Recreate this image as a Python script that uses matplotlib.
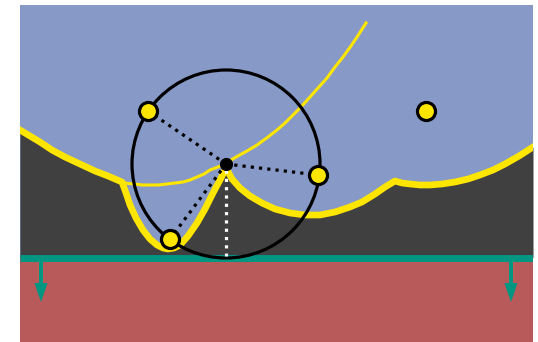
import matplotlib
matplotlib.use("Agg")
import matplotlib.pyplot as plt
import numpy as np
from matplotlib.patches import Circle

# colours
sky = "#8799c6"
rock = "#404040"
base = "#b85a5a"
teal = "#009682"
yellow = "#ffe600"

# all coordinates are in picture units (x to the right, y downwards)
# boundary of the dark region
bound_x = [20, 30, 40, 52, 65, 80, 95, 108, 122,
           126, 130, 136, 143, 150, 157, 163, 168, 174, 180, 188, 197, 205, 213, 220, 226,
           232, 240, 250, 262, 275, 290, 305, 320, 335, 350, 362, 375, 385, 395,
           402, 410, 420, 430, 442, 455, 468, 480, 493, 505, 519, 533]
bound_y = [130, 136, 142, 150, 157, 164, 171, 176, 182,
           193, 205, 218, 230, 239, 245, 248, 249, 248, 245, 236, 223, 209, 193, 180, 168,
           179, 188, 196, 203, 209, 213, 215, 215, 212, 207, 202, 194, 187, 181,
           183, 184, 185, 185, 184, 182, 179, 175, 170, 164, 156, 147]

# thin yellow curve
thin_x = [120, 128, 135, 142, 150, 158, 167, 175, 183, 190, 197, 204, 210, 218, 226,
          236, 247, 257, 268, 277, 285, 293, 301, 310, 318, 327, 335, 343, 351, 359, 366]
thin_y = [182, 183.5, 184, 185, 185, 185, 184, 183, 182, 180, 177, 174, 170, 167, 163,
          157, 151, 145, 137, 130, 123, 115, 107, 97, 88, 78, 67, 57, 46, 34, 23]

circle_c = (226, 164)
circle_r = 94
pts_x = [148, 318, 170, 426]
pts_y = [111, 175, 239, 111]
spoke_ends = [(148, 111), (318, 175), (170, 239)]
ground_y = 257.5
arrow_x = [41, 511]

fig = plt.figure(figsize=(5.38, 3.42), dpi=100)
ax = fig.add_axes([20 / 538, 0, 513 / 538, 337 / 342])
ax.set_xlim(20, 533)
ax.set_ylim(342, 5)
ax.set_facecolor(sky)
for s in ax.spines.values():
    s.set_visible(False)
ax.set_xticks([])
ax.set_yticks([])

ax.fill_between(bound_x, bound_y, ground_y, color=rock, lw=0, zorder=1)
ax.fill_between([20, 533], ground_y, 342, color=base, lw=0, zorder=1)
ax.plot([20, 533], [ground_y, ground_y], color=teal, lw=5, zorder=2,
        solid_capstyle="butt")
for xa in arrow_x:
    ax.arrow(xa, 260, 0, 42, width=4, head_width=13, head_length=19,
             length_includes_head=True, color=teal, lw=0, zorder=2)

ax.plot(bound_x, bound_y, color=yellow, lw=4.8, zorder=3, solid_joinstyle="round")
ax.plot(thin_x, thin_y, color=yellow, lw=2.2, zorder=3)

ax.add_patch(Circle(circle_c, circle_r, fill=False, ec="black", lw=2.3, zorder=4))

for ex, ey in spoke_ends:
    ax.plot([circle_c[0], ex], [circle_c[1], ey], color="black", lw=2.3,
            ls=(0, (1, 1.6)), zorder=4)
ax.plot([circle_c[0], circle_c[0]], [circle_c[1] + 6, ground_y - 2], color="white",
        lw=2.3, ls=(0, (1, 1.6)), zorder=4)

ax.plot([circle_c[0]], [circle_c[1]], "o", color="black", ms=8.5, zorder=5)
ax.plot(pts_x, pts_y, "o", color=yellow, mec="black", mew=2.3, ms=13, zorder=6)

fig.savefig("out.png", dpi=100)
